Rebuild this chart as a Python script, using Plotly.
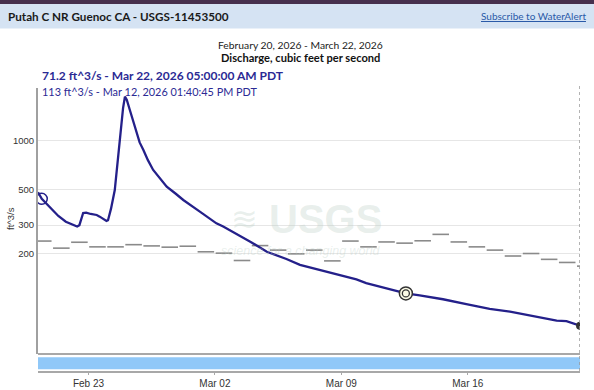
import plotly.graph_objects as go
from datetime import datetime, timedelta

# ---------------- data ----------------
flow_times = [
    "2026-02-20 05:00", "2026-02-20 10:00", "2026-02-21 08:00", "2026-02-21 18:00",
    "2026-02-22 09:00", "2026-02-22 12:00", "2026-02-22 17:00", "2026-02-22 21:00",
    "2026-02-23 03:00", "2026-02-23 11:00", "2026-02-23 15:00", "2026-02-24 00:00",
    "2026-02-24 02:00", "2026-02-24 06:00", "2026-02-24 11:00", "2026-02-24 18:00",
    "2026-02-24 22:00", "2026-02-25 00:30", "2026-02-25 03:00", "2026-02-25 07:00",
    "2026-02-25 16:00", "2026-02-25 20:00", "2026-02-26 01:00", "2026-02-26 07:00",
    "2026-02-26 14:00", "2026-02-26 22:00", "2026-02-27 08:00", "2026-02-27 20:00",
    "2026-02-28 06:00", "2026-03-01 04:00", "2026-03-01 16:00", "2026-03-02 02:00",
    "2026-03-02 11:00", "2026-03-03 23:00", "2026-03-04 21:00", "2026-03-05 23:00",
    "2026-03-06 17:00", "2026-03-07 15:00", "2026-03-08 02:00", "2026-03-09 02:00",
    "2026-03-09 20:00", "2026-03-10 09:00", "2026-03-11 12:00", "2026-03-12 06:00",
    "2026-03-12 13:40:45", "2026-03-13 08:00", "2026-03-14 15:00", "2026-03-15 22:00",
    "2026-03-17 05:00", "2026-03-18 08:00", "2026-03-19 15:00", "2026-03-20 22:00",
    "2026-03-21 11:00", "2026-03-22 05:00",
]
flow_values = [
    480, 437, 342, 315,
    294, 300, 357, 359,
    352, 347, 339, 319,
    322, 380, 496, 1118,
    1600, 1884, 1800, 1558,
    1118, 980, 879, 760,
    661, 590, 520, 470,
    430, 364, 333, 308,
    294, 237, 205, 185,
    170, 160, 154, 144,
    138, 131, 122, 116,
    113, 110, 104, 97,
    90.5, 87, 82, 76.5,
    76, 71.2,
]

median_days = [
    "2026-02-20", "2026-02-21", "2026-02-22", "2026-02-23", "2026-02-24", "2026-02-25",
    "2026-02-26", "2026-02-27", "2026-02-28", "2026-03-01", "2026-03-02", "2026-03-03",
    "2026-03-04", "2026-03-05", "2026-03-06", "2026-03-07", "2026-03-08", "2026-03-09",
    "2026-03-10", "2026-03-11", "2026-03-12", "2026-03-13", "2026-03-14", "2026-03-15",
    "2026-03-16", "2026-03-17", "2026-03-18", "2026-03-19", "2026-03-20", "2026-03-21",
    "2026-03-22",
]
median_values = [
    239, 216, 235, 220, 220, 227,
    223, 219, 222, 205, 201, 181,
    224, 210, 199, 210, 180, 239,
    220, 236, 232, 240, 263, 236,
    220, 210, 193, 200, 184, 176,
    167,
]

y_tick_vals = [200, 300, 500, 1000]
y_tick_text = ["200", "300", "500", "1000"]

start_time = "2026-02-20 05:00"
end_time = "2026-03-22 05:00"
current_label = "71.2 ft^3/s - Mar 22, 2026 05:00:00 AM PDT"
hover_label = "113 ft^3/s - Mar 12, 2026 01:40:45 PM PDT"
hover_time = "2026-03-12 13:40:45"
hover_value = 113
start_marker_time = "2026-02-20 10:00"
start_marker_value = 437

# ---------------- helpers ----------------
W, H = 594, 390
def px(x):
    return x / W
def py(y):
    return 1 - y / H

t_start = datetime.strptime(start_time, "%Y-%m-%d %H:%M")
t_end = datetime.strptime(end_time, "%Y-%m-%d %H:%M")

# median step segments (one per calendar day, small gap)
seg_x, seg_y = [], []
for d, v in zip(median_days, median_values):
    day = datetime.strptime(d, "%Y-%m-%d")
    a = max(day + timedelta(hours=1), t_start)
    b = min(day + timedelta(hours=23), t_end)
    if b <= a:
        continue
    seg_x += [a, b, None]
    seg_y += [v, v, None]

LINE = "#24208a"
TEXT_BLUE = "#2b2a94"
WM = "rgba(185,205,195,0.33)"
PAGE_FONT = "Lato, Open Sans, sans-serif"

fig = go.Figure()
fig.add_trace(go.Scatter(x=seg_x, y=seg_y, mode="lines",
                         line=dict(color="#8a8a8a", width=1.6),
                         hoverinfo="skip", showlegend=False))
fig.add_trace(go.Scatter(x=flow_times, y=flow_values, mode="lines",
                         line=dict(color=LINE, width=2.3),
                         hoverinfo="skip", showlegend=False))
fig.add_trace(go.Scatter(x=[start_marker_time], y=[start_marker_value], mode="markers",
                         marker=dict(symbol="circle-open", size=11,
                                     line=dict(color=LINE, width=1.5), color=LINE),
                         hoverinfo="skip", showlegend=False))
fig.add_trace(go.Scatter(x=[hover_time], y=[hover_value], mode="markers",
                         marker=dict(symbol="circle", size=13, color="#fbfbe6",
                                     line=dict(color="#333333", width=1.5)),
                         hoverinfo="skip", showlegend=False))
fig.add_trace(go.Scatter(x=[hover_time], y=[hover_value], mode="markers",
                         marker=dict(symbol="circle-open", size=7,
                                     line=dict(color="#333333", width=1.3), color="#333333"),
                         hoverinfo="skip", showlegend=False))
fig.add_trace(go.Scatter(x=[flow_times[-1]], y=[flow_values[-1]], mode="markers",
                         marker=dict(symbol="circle", size=8, color="#333333"),
                         hoverinfo="skip", showlegend=False))

shapes = [
    # header bars
    dict(type="rect", xref="paper", yref="paper", x0=0, x1=1, y0=py(4), y1=1,
         fillcolor="#46304d", line=dict(width=0), layer="below"),
    dict(type="rect", xref="paper", yref="paper", x0=0, x1=1, y0=py(28.5), y1=py(4),
         fillcolor="#d5e3f3", line=dict(width=0), layer="below"),
    # main plot bottom line
    dict(type="line", xref="x domain", yref="paper", x0=0, x1=1, y0=py(354), y1=py(354),
         line=dict(color="#a8a8a8", width=2)),
    # brush
    dict(type="rect", xref="x domain", yref="paper", x0=0, x1=1, y0=py(369.3), y1=py(357.3),
         fillcolor="#90c8f8", line=dict(width=0)),
    # current-time dotted line
    dict(type="line", xref="x", yref="paper", x0=end_time, x1=end_time,
         y0=py(371), y1=py(86), line=dict(color="#9a9a9a", width=1.5, dash="dot")),
]

annotations = [
    dict(text="<b>Putah C NR Guenoc CA - USGS-11453500</b>", x=px(6), y=py(16),
         xref="paper", yref="paper", xanchor="left", yanchor="middle", showarrow=False,
         font=dict(family=PAGE_FONT, size=11.7, color="#1a1a1a")),
    dict(text="<u>Subscribe to WaterAlert</u>", x=px(588), y=py(16),
         xref="paper", yref="paper", xanchor="right", yanchor="middle", showarrow=False,
         font=dict(family=PAGE_FONT, size=10, color="#2a5aa8")),
    dict(text="February 20, 2026 - March 22, 2026", x=px(300), y=py(44.5),
         xref="paper", yref="paper", xanchor="center", yanchor="middle", showarrow=False,
         font=dict(family=PAGE_FONT, size=10.3, color="#222222")),
    dict(text="<b>Discharge, cubic feet per second</b>", x=px(300), y=py(57),
         xref="paper", yref="paper", xanchor="center", yanchor="middle", showarrow=False,
         font=dict(family=PAGE_FONT, size=11.1, color="#111111")),
    dict(text="<b>" + current_label + "</b>", x=px(40), y=py(76),
         xref="paper", yref="paper", xanchor="left", yanchor="middle", showarrow=False,
         font=dict(family=PAGE_FONT, size=12, color=TEXT_BLUE)),
    dict(text=hover_label, x=px(40), y=py(91),
         xref="paper", yref="paper", xanchor="left", yanchor="middle", showarrow=False,
         font=dict(family=PAGE_FONT, size=10.9, color=TEXT_BLUE)),
    dict(text="ft^3/s", x=px(10), y=py(219), textangle=-90,
         xref="paper", yref="paper", xanchor="center", yanchor="middle", showarrow=False,
         font=dict(family="Liberation Sans, Arial, sans-serif", size=9.5, color="#333333")),
    # watermark
    dict(text="<b>USGS</b>", x=px(325), y=py(219), borderpad=0,
         xref="paper", yref="paper", xanchor="center", yanchor="middle", showarrow=False,
         font=dict(family="Liberation Sans Narrow, Liberation Sans, Arial, sans-serif",
                   size=40, color=WM)),
    dict(text="≋", x=px(244), y=py(219), borderpad=0,
         xref="paper", yref="paper", xanchor="center", yanchor="middle", showarrow=False,
         font=dict(family="DejaVu Sans, sans-serif", size=32, color=WM)),
    dict(text="<i>science for a changing world</i>", x=px(300), y=py(251), borderpad=0,
         xref="paper", yref="paper", xanchor="center", yanchor="middle", showarrow=False,
         font=dict(family="Liberation Sans, Arial, sans-serif", size=12.5, color=WM)),
]

fig.update_layout(
    width=W, height=H,
    margin=dict(l=0, r=0, t=0, b=0),
    paper_bgcolor="white", plot_bgcolor="white",
    showlegend=False,
    shapes=shapes, annotations=annotations,
    xaxis=dict(
        type="date", range=[start_time, end_time],
        domain=[px(38), px(580)],
        anchor="free", position=py(371.5),
        showline=True, linecolor="#a8a8a8", linewidth=1.5,
        showgrid=False, zeroline=False,
        ticks="outside", ticklen=3, tickcolor="#a8a8a8", tickwidth=1,
        tick0="2026-02-23", dtick=7 * 24 * 3600 * 1000, tickformat="%b %d",
        tickfont=dict(family="Liberation Sans, Arial, sans-serif", size=10, color="#333333"),
        automargin=False,
    ),
    yaxis=dict(
        type="log", range=[1.677, 3.329],
        domain=[py(354), py(88)],
        tickvals=y_tick_vals, ticktext=y_tick_text,
        showgrid=True, gridcolor="#e6e6e6", gridwidth=1,
        showline=True, linecolor="#a0a0a0", linewidth=2,
        zeroline=False, ticks="",
        tickfont=dict(family="Liberation Sans, Arial, sans-serif", size=9.5, color="#333333"),
        automargin=False,
    ),
)

fig.write_html(
    "out.html",
    config={"displayModeBar": False, "responsive": False},
    post_script="document.body.style.margin='0';document.body.style.overflow='hidden';",
)
